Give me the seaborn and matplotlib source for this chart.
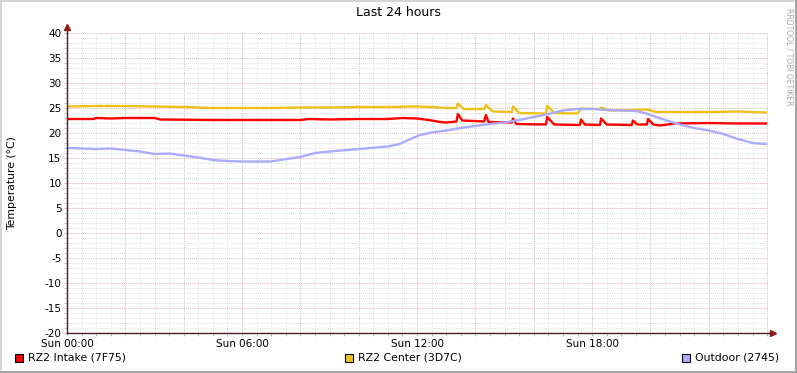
import numpy as np
import pandas as pd
import matplotlib
matplotlib.use("Agg")
import matplotlib.pyplot as plt
import seaborn as sns
from matplotlib.patches import Rectangle

# ---------------- data (hours since Sun 00:00, degC) ----------------
intake_h = [0, 0.9, 1.0, 1.5, 2.0, 3.0, 3.2, 5.0, 6.0, 8.0, 8.3, 9.0, 10.0, 11.0, 11.5, 12.0,
            12.4, 12.8, 13.0, 13.35, 13.40, 13.55, 14.3, 14.36, 14.45, 15.25, 15.29, 15.4,
            16.42, 16.46, 16.7, 17.58, 17.62, 17.75, 18.27, 18.31, 18.5, 19.36, 19.40, 19.55,
            19.88, 19.92, 20.1, 20.33, 20.84, 22.0, 23.0, 23.96]
intake_v = [22.8, 22.8, 23.0, 22.9, 23.0, 23.0, 22.7, 22.6, 22.6, 22.6, 22.8, 22.7, 22.8, 22.8, 23.0, 22.9,
            22.6, 22.2, 22.1, 22.3, 23.8, 22.5, 22.3, 23.6, 22.2, 22.1, 22.9, 21.8,
            21.7, 23.2, 21.7, 21.6, 22.7, 21.7, 21.6, 22.9, 21.7, 21.6, 22.5, 21.7,
            21.7, 22.8, 21.7, 21.5, 21.9, 22.0, 21.9, 21.9]

center_h = [0, 1.0, 2.0, 3.0, 4.0, 5.0, 6.0, 7.0, 8.0, 9.0, 10.0, 11.0, 12.0, 12.5, 13.0, 13.35,
            13.40, 13.6, 14.3, 14.36, 14.6, 15.25, 15.29, 15.5, 16.42, 16.46, 16.7, 17.5, 17.62,
            18.0, 18.27, 18.31, 18.6, 19.4, 19.9, 20.2, 22.0, 23.0, 23.96]
center_v = [25.3, 25.4, 25.4, 25.3, 25.2, 25.0, 25.0, 25.0, 25.1, 25.1, 25.2, 25.2, 25.3, 25.2, 25.0, 25.0,
            25.9, 24.8, 24.8, 25.6, 24.3, 24.2, 25.3, 24.0, 23.9, 25.5, 24.0, 23.9, 24.9,
            24.8, 24.8, 25.1, 24.5, 24.6, 24.7, 24.2, 24.2, 24.3, 24.1]

outdoor_h = [0, 0.5, 1.0, 1.5, 2.0, 2.5, 3.0, 3.5, 4.0, 4.5, 5.0, 5.5, 6.0, 7.0, 7.3, 8.0, 8.5, 9.0,
             10.0, 11.0, 11.4, 11.7, 12.1, 12.5, 13.0, 13.5, 14.0, 14.5, 15.0, 15.5, 16.0, 16.5,
             17.0, 17.5, 18.0, 18.5, 19.0, 19.5, 19.8, 20.1, 20.5, 21.0, 21.5, 22.0, 22.5, 23.0,
             23.5, 23.96]
outdoor_v = [17.0, 16.9, 16.8, 16.9, 16.6, 16.3, 15.8, 15.9, 15.5, 15.1, 14.6, 14.4, 14.3, 14.3, 14.6,
             15.2, 16.0, 16.3, 16.8, 17.3, 17.8, 18.6, 19.6, 20.1, 20.5, 21.0, 21.4, 21.8, 22.1,
             22.6, 23.2, 23.8, 24.5, 24.8, 24.8, 24.6, 24.5, 24.4, 24.0, 23.4, 22.6, 21.7, 21.0,
             20.5, 19.8, 18.8, 18.0, 17.8]

series_names = ["RZ2 Intake (7F75)", "RZ2 Center (3D7C)", "Outdoor (2745)"]
series_colors = ["#FF0000", "#EEC11A", "#AAAAFF"]
x_tick_hours = [0, 6, 12, 18]
x_tick_labels = ["Sun 00:00", "Sun 06:00", "Sun 12:00", "Sun 18:00"]
y_ticks = list(range(-20, 41, 5))

df = pd.concat([
    pd.DataFrame({"hour": intake_h, "temp": intake_v, "series": series_names[0]}),
    pd.DataFrame({"hour": center_h, "temp": center_v, "series": series_names[1]}),
    pd.DataFrame({"hour": outdoor_h, "temp": outdoor_v, "series": series_names[2]}),
], ignore_index=True)

# ---------------- figure ----------------
W, H = 797, 373
fig = plt.figure(figsize=(W / 100, H / 100), dpi=100, facecolor="white")
ax = fig.add_axes([67 / W, 1 - 333 / H, (768 - 67) / W, 300 / H])
ax.set_facecolor("white")

ax.set_xlim(0, 24.03)
ax.set_ylim(-20, 40)

# grid
minor_c = "#E2E2E2"
major_c = "#EBB4B4"
ax.set_xticks(np.arange(0, 24.01, 2))
ax.set_xticks(np.arange(0, 24.01, 0.5), minor=True)
ax.set_yticks(y_ticks)
ax.set_yticks(np.arange(-20, 40.1, 1), minor=True)
ax.grid(which="minor", color=minor_c, linestyle=(0, (1, 1)), linewidth=0.7)
ax.grid(which="major", color=major_c, linestyle=(0, (1, 1)), linewidth=0.7)
ax.set_axisbelow(True)

ax.set_xticklabels(["" if h not in x_tick_hours else x_tick_labels[x_tick_hours.index(h)]
                    for h in np.arange(0, 24.01, 2)])
ax.set_yticklabels([str(v) for v in y_ticks])
ax.tick_params(axis="both", which="both", length=2, width=0.7, color="#C0C0C0",
               labelsize=7.5, pad=2, labelcolor="black")

sns.lineplot(data=df, x="hour", y="temp", hue="series", palette=series_colors,
             hue_order=series_names, estimator=None, sort=False, linewidth=1.7,
             legend=False, ax=ax)
ax.set_xlabel("")
ax.set_ylabel("Temperature (°C)", fontsize=7.8)
ax.yaxis.set_label_coords(-50 / 701, 0.5)

for s in ["top", "right"]:
    ax.spines[s].set_visible(False)
axis_c = "#4A2020"
for s in ["left", "bottom"]:
    ax.spines[s].set_color(axis_c)
    ax.spines[s].set_linewidth(1.0)

# axis arrows
ax.plot([0, 0], [1, 1.02], transform=ax.transAxes, color=axis_c, lw=1.0, clip_on=False)
ax.plot([0], [1.02], transform=ax.transAxes, marker="^", color="#8B1A1A", ms=4, clip_on=False)
ax.plot([1, 1.007], [0, 0], transform=ax.transAxes, color=axis_c, lw=1.0, clip_on=False)
ax.plot([1.007], [0], transform=ax.transAxes, marker=">", color="#8B1A1A", ms=4, clip_on=False)

# title & watermark
fig.text(398 / W, 1 - 13 / H, "Last 24 hours", ha="center", va="center", fontsize=9)
fig.text(789 / W, 1 - 57 / H, "RRDTOOL / TOBI OETIKER", rotation=270, ha="center",
         va="center", fontsize=5.5, color="#A8A8A8")

# legend
leg_x = [15, 345, 682]
for lx, name, col in zip(leg_x, series_names, series_colors):
    fig.patches.append(Rectangle((lx / W, 1 - 362 / H), 8 / W, 8 / H, transform=fig.transFigure,
                                 facecolor=col, edgecolor="black", linewidth=0.8))
    fig.text((lx + 13) / W, 1 - 358 / H, name, ha="left", va="center", fontsize=7.8)

# frame
fig.add_artist(plt.Line2D([0, 1], [1 - 1 / H, 1 - 1 / H], transform=fig.transFigure,
                          color="#D4D4D4", lw=1.5))
fig.add_artist(plt.Line2D([1 / W, 1 / W], [0, 1], transform=fig.transFigure,
                          color="#D4D4D4", lw=1.5))
fig.add_artist(plt.Line2D([0, 1], [1 / H, 1 / H], transform=fig.transFigure,
                          color="#A0A0A0", lw=2))
fig.add_artist(plt.Line2D([1 - 1 / W, 1 - 1 / W], [0, 1], transform=fig.transFigure,
                          color="#A0A0A0", lw=2))

fig.savefig("out.png", dpi=100, facecolor="white")
